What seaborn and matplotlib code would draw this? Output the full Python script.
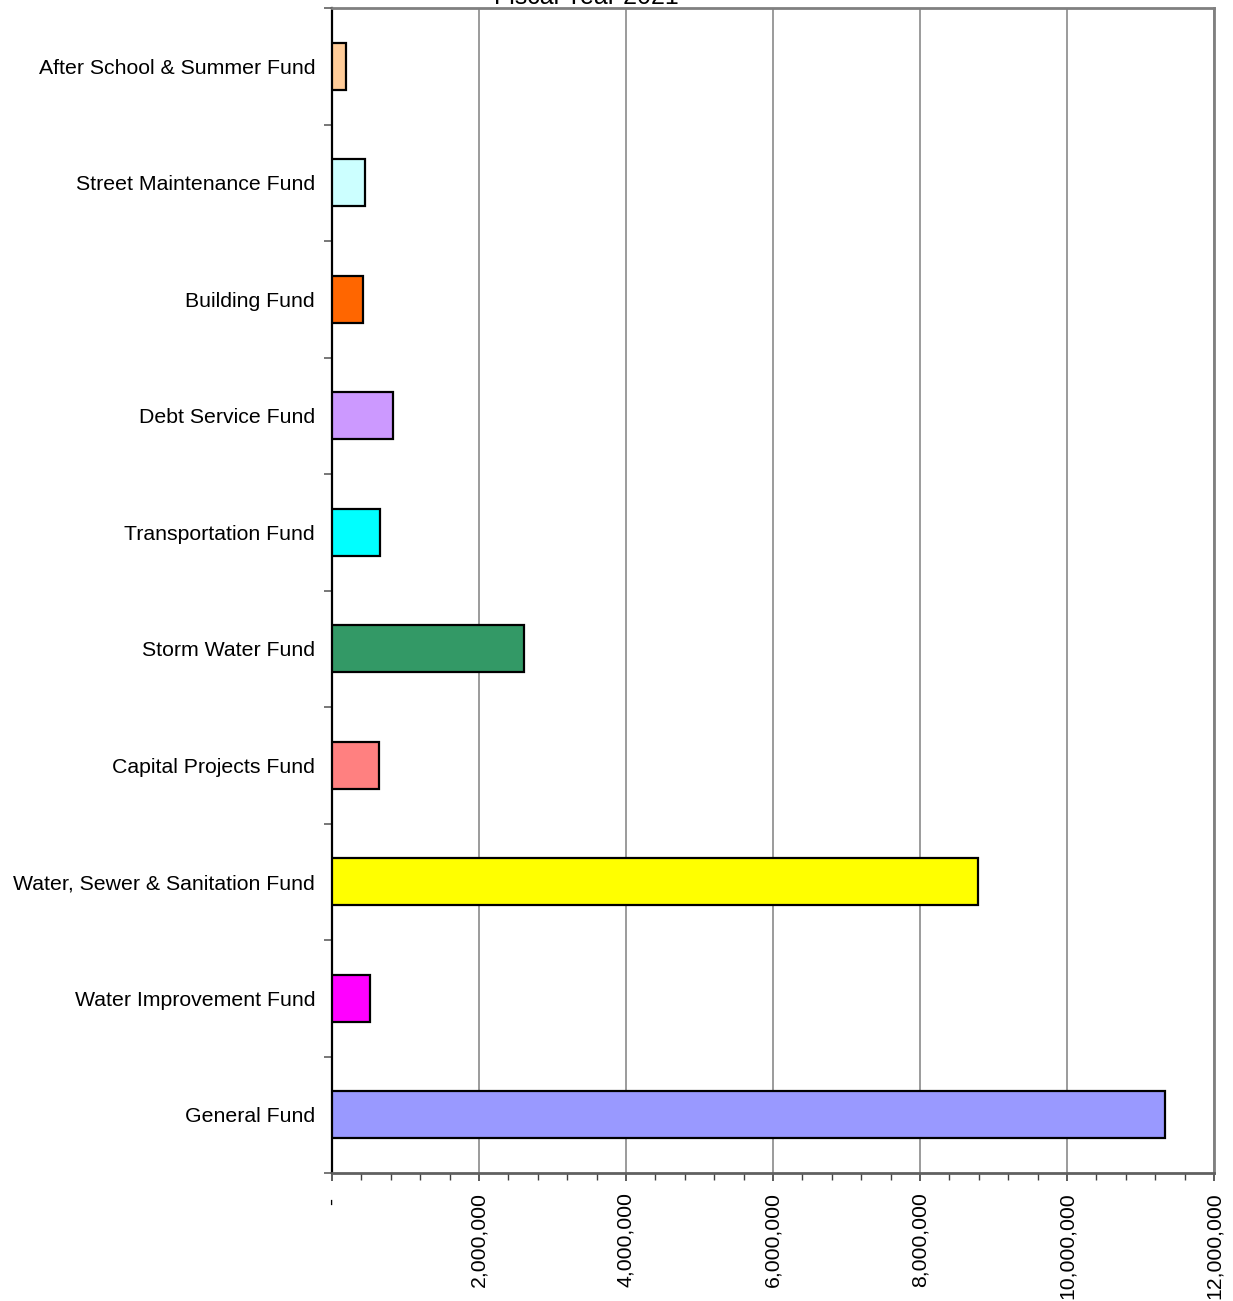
import matplotlib
matplotlib.use("Agg")
import matplotlib.pyplot as plt
from matplotlib.ticker import MultipleLocator, FixedLocator, FuncFormatter
import seaborn as sns
import pandas as pd

sns.set_theme(style="white")
plt.rcParams["font.family"] = ["Liberation Sans", "DejaVu Sans"]

# Fund expenditures, Fiscal Year 2021
funds = [
    "After School & Summer Fund",
    "Street Maintenance Fund",
    "Building Fund",
    "Debt Service Fund",
    "Transportation Fund",
    "Storm Water Fund",
    "Capital Projects Fund",
    "Water, Sewer & Sanitation Fund",
    "Water Improvement Fund",
    "General Fund",
]
amounts = [
    185000,
    450000,
    420000,
    830000,
    655000,
    2610000,
    636000,
    8790000,
    520000,
    11330000,
]
fund_colors = [
    "#FFCC99",
    "#CCFFFF",
    "#FF6600",
    "#CC99FF",
    "#00FFFF",
    "#339966",
    "#FF8080",
    "#FFFF00",
    "#FF00FF",
    "#9999FF",
]
title_text = "Fiscal Year 2021"

df = pd.DataFrame({"fund": funds, "amount": amounts})

W, H = 1233, 1301
fig = plt.figure(figsize=(W / 100, H / 100), dpi=100)
ax = fig.add_axes([332 / W, 1 - 1173 / H, (1214 - 332) / W, (1173 - 8) / H])

sns.barplot(
    data=df, x="amount", y="fund", hue="fund", palette=fund_colors,
    order=funds, hue_order=funds, orient="h", width=0.4, saturation=1,
    edgecolor="black", linewidth=1.6, legend=False, ax=ax, zorder=3,
)

ax.set_xlim(0, 12000000)
ax.set_ylim(len(funds) - 0.5, -0.5)
ax.set_xlabel("")
ax.set_ylabel("")

# x axis: major ticks every 2M, minor every 400k, accounting-style zero
ax.xaxis.set_major_locator(MultipleLocator(2000000))
ax.xaxis.set_minor_locator(MultipleLocator(400000))
ax.xaxis.set_major_formatter(
    FuncFormatter(lambda v, p: " - " if v == 0 else f"{int(v):,}")
)
ax.tick_params(axis="x", which="major", bottom=True, length=6, width=1.2,
               color="#404040", pad=8, labelsize=15.3, labelrotation=90,
               labelcolor="black")
ax.tick_params(axis="x", which="minor", bottom=True, length=5, width=1.0,
               color="#404040")

# y axis: labels centred on bars, tick marks at category boundaries
ax.yaxis.set_major_locator(FixedLocator(range(len(funds))))
ax.set_yticklabels(funds)
ax.yaxis.set_minor_locator(FixedLocator([i - 0.5 for i in range(len(funds) + 1)]))
ax.tick_params(axis="y", which="major", left=False, length=0, pad=12.2,
               labelsize=15.3, labelcolor="black")
ax.tick_params(axis="y", which="minor", left=True, length=6, width=1.2,
               color="#606060")

ax.grid(axis="x", which="major", color="#808080", linewidth=1.1, zorder=0)
ax.grid(axis="y", visible=False)
ax.set_axisbelow(True)

for side in ["top", "right", "bottom"]:
    ax.spines[side].set_color("#808080")
    ax.spines[side].set_linewidth(2.0)
ax.spines["bottom"].set_color("#606060")
ax.spines["left"].set_color("black")
ax.spines["left"].set_linewidth(1.6)

fig.text(586.7 / W, 1 - 4.5 / H, title_text, ha="center", va="baseline",
         fontsize=18, color="black")

fig.savefig("out.png", dpi=100, facecolor="white")
